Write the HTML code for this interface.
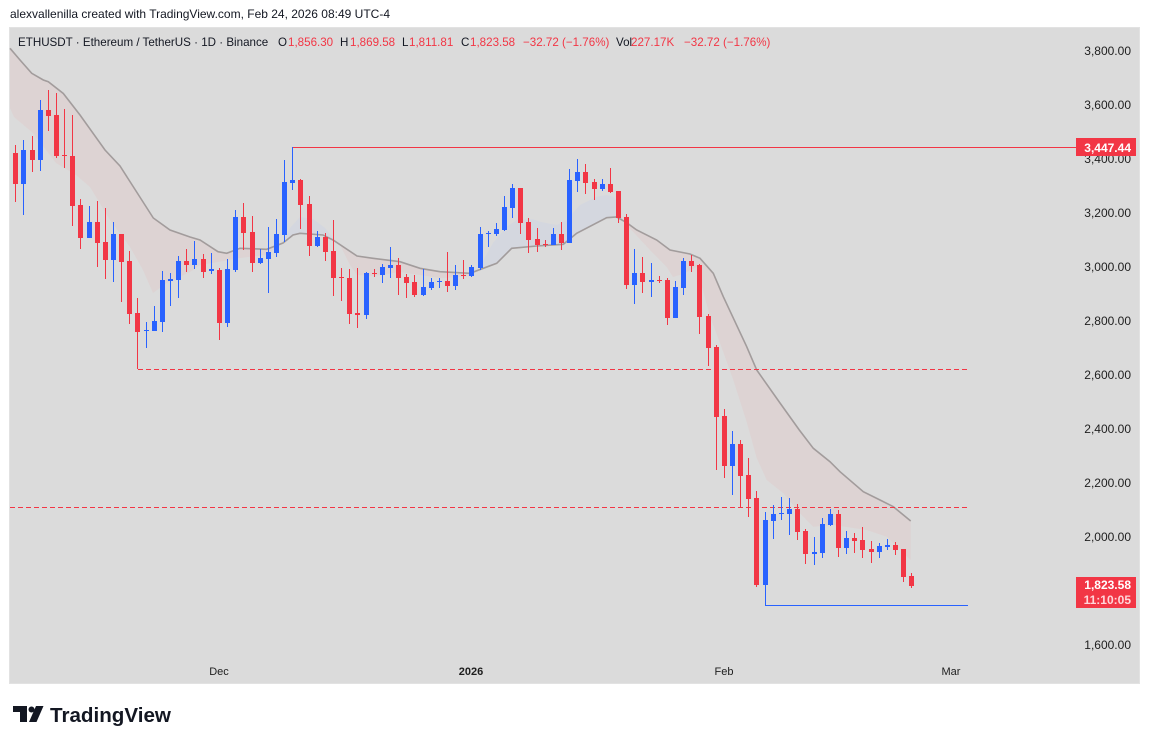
<!DOCTYPE html>
<html><head><meta charset="utf-8"><style>
html,body{margin:0;padding:0;background:#fff;}
body{width:1151px;height:745px;position:relative;overflow:hidden;font-family:"Liberation Sans",sans-serif;}
</style></head><body>
<svg width="1151" height="745" viewBox="0 0 1151 745" xmlns="http://www.w3.org/2000/svg" style="position:absolute;left:0;top:0">
<rect x="0" y="0" width="1151" height="745" fill="#ffffff"/>
<rect x="9" y="27" width="1131" height="657" fill="#dbdbdb"/>
<rect x="9.5" y="27.5" width="1130" height="656" fill="none" stroke="#e2e2e2" stroke-width="1"/>
<polygon fill="#ddd3d3" points="10,48.3 20,60 31.7,73.3 43.3,80 48.3,81.7 63.3,93.5 80,115 105,150 120,166 153.3,218 170,230 190,237 200,240 218,251.7 226.7,253.3 240,248.3 266.7,249.3 283,243 266,255 240,258 218,262 200,265 190,272 166.7,283 153,293 143,270 130,247 110,220 90,187 76,175 56,163 33,133 14,117 10,108"/>
<polygon fill="#d4d7df" points="283,243 293,235 300,233.3 323,235 333,240 340,245 333,238 325,228 313,219 300,217 290,228"/>
<polygon fill="#ddd3d3" points="340,245 357,256 373,258.3 400,261.7 420,268.3 440,271.7 470,273.3 478,270.5 470,276 460,277 440,278 420,275 400,272 373,276 357,275 350,265"/>
<polygon fill="#d4d7df" points="478,270.5 496.7,263.3 511.7,248.3 536.7,246 563.3,244.3 576.7,233.3 606.7,217.7 616.7,217 621.7,219 618.3,201.7 613.3,196.7 606.7,195 596.7,196.7 580,205 566.7,220 556.7,225 540,221.7 533,219.3 516.7,220 506.7,226.7 493,243 483.3,260"/>
<polygon fill="#ddd3d3" points="621.7,219 626.7,222.7 636.7,230 656.7,240 670,250 690,254 700,258.3 713.3,273.3 723.3,296.7 746.7,346.7 756.7,370 780,403 799.3,430 813.3,448.3 830,461.7 840,471.7 863.3,491.7 880,500 893.3,506.7 910.7,521 910.7,560 886.7,536.7 866.7,530 833.3,525 813.3,526.7 800,513.3 783.3,493.3 766.7,480 756.7,458 747,423 733.3,380 720,343 710,316.7 696.7,266.7 683,274 673,277 666.7,267 650,250 633.3,232 626,225"/>
<polyline fill="none" stroke="#a29c9c" stroke-width="1.6" points="10,48.3 20,60 31.7,73.3 43.3,80 48.3,81.7 63.3,93.5 80,115 105,150 120,166 153.3,218 170,230 190,237 200,240 218,251.7 226.7,253.3 240,248.3 266.7,249.3 283,243 293,235 300,233.3 323,235 333,240 357,256 373,258.3 400,261.7 420,268.3 440,271.7 470,273.3 496.7,263.3 511.7,248.3 536.7,246 563.3,244.3 576.7,233.3 606.7,217.7 616.7,217 626.7,222.7 636.7,230 656.7,240 670,250 690,254 700,258.3 713.3,273.3 723.3,296.7 746.7,346.7 756.7,370 780,403 799.3,430 813.3,448.3 830,461.7 840,471.7 863.3,491.7 880,500 893.3,506.7 910.7,521"/>
<rect x="292" y="147" width="784" height="1" fill="#F23645"/>
<line x1="138" y1="369.5" x2="970" y2="369.5" stroke="#F23645" stroke-width="1" stroke-dasharray="5,3"/>
<line x1="10" y1="507.5" x2="970" y2="507.5" stroke="#F23645" stroke-width="1" stroke-dasharray="5,3"/>
<rect x="765" y="605" width="203" height="1" fill="#2962FF"/>
<g fill="#F23645">
<rect x="15" y="145" width="1" height="57"/><rect x="13" y="153" width="5" height="31"/>
<rect x="32" y="136" width="1" height="36"/><rect x="30" y="150" width="5" height="10"/>
<rect x="48" y="90" width="1" height="41"/><rect x="46" y="110" width="5" height="6"/>
<rect x="56" y="93" width="1" height="65"/><rect x="54" y="115" width="5" height="41"/>
<rect x="64" y="109" width="1" height="59"/><rect x="62" y="155" width="5" height="1"/>
<rect x="72" y="115" width="1" height="111"/><rect x="70" y="156" width="5" height="50"/>
<rect x="80" y="199" width="1" height="50"/><rect x="78" y="205" width="5" height="33"/>
<rect x="97" y="201" width="1" height="66"/><rect x="95" y="222" width="5" height="21"/>
<rect x="105" y="208" width="1" height="71"/><rect x="103" y="242" width="5" height="18"/>
<rect x="121" y="234" width="1" height="68"/><rect x="119" y="234" width="5" height="28"/>
<rect x="129" y="251" width="1" height="73"/><rect x="127" y="261" width="5" height="53"/>
<rect x="137" y="298" width="1" height="71"/><rect x="135" y="313" width="5" height="19"/>
<rect x="186" y="249" width="1" height="23"/><rect x="184" y="261" width="5" height="4"/>
<rect x="203" y="254" width="1" height="24"/><rect x="201" y="259" width="5" height="13"/>
<rect x="219" y="268" width="1" height="72"/><rect x="217" y="270" width="5" height="53"/>
<rect x="243" y="203" width="1" height="47"/><rect x="241" y="217" width="5" height="16"/>
<rect x="252" y="216" width="1" height="56"/><rect x="250" y="232" width="5" height="31"/>
<rect x="300" y="179" width="1" height="50"/><rect x="298" y="180" width="5" height="25"/>
<rect x="309" y="196" width="1" height="60"/><rect x="307" y="204" width="5" height="42"/>
<rect x="325" y="233" width="1" height="28"/><rect x="323" y="237" width="5" height="15"/>
<rect x="333" y="220" width="1" height="76"/><rect x="331" y="251" width="5" height="27"/>
<rect x="341" y="268" width="1" height="33"/><rect x="339" y="277" width="5" height="1"/>
<rect x="349" y="269" width="1" height="55"/><rect x="347" y="278" width="5" height="36"/>
<rect x="357" y="268" width="1" height="60"/><rect x="355" y="313" width="5" height="2"/>
<rect x="374" y="269" width="1" height="8"/><rect x="372" y="273" width="5" height="1"/>
<rect x="398" y="258" width="1" height="37"/><rect x="396" y="265" width="5" height="13"/>
<rect x="406" y="274" width="1" height="24"/><rect x="404" y="277" width="5" height="6"/>
<rect x="414" y="275" width="1" height="22"/><rect x="412" y="282" width="5" height="13"/>
<rect x="447" y="252" width="1" height="40"/><rect x="445" y="281" width="5" height="5"/>
<rect x="463" y="260" width="1" height="19"/><rect x="461" y="275" width="5" height="1"/>
<rect x="520" y="188" width="1" height="46"/><rect x="518" y="188" width="5" height="35"/>
<rect x="528" y="218" width="1" height="35"/><rect x="526" y="222" width="5" height="18"/>
<rect x="537" y="228" width="1" height="24"/><rect x="535" y="239" width="5" height="6"/>
<rect x="545" y="240" width="1" height="7"/><rect x="543" y="244" width="5" height="1"/>
<rect x="561" y="222" width="1" height="28"/><rect x="559" y="234" width="5" height="9"/>
<rect x="585" y="164" width="1" height="30"/><rect x="583" y="172" width="5" height="11"/>
<rect x="594" y="179" width="1" height="21"/><rect x="592" y="182" width="5" height="7"/>
<rect x="610" y="168" width="1" height="25"/><rect x="608" y="184" width="5" height="8"/>
<rect x="618" y="191" width="1" height="32"/><rect x="616" y="191" width="5" height="27"/>
<rect x="626" y="214" width="1" height="75"/><rect x="624" y="217" width="5" height="68"/>
<rect x="642" y="257" width="1" height="36"/><rect x="640" y="273" width="5" height="9"/>
<rect x="659" y="276" width="1" height="7"/><rect x="657" y="280" width="5" height="1"/>
<rect x="667" y="278" width="1" height="47"/><rect x="665" y="280" width="5" height="38"/>
<rect x="691" y="255" width="1" height="17"/><rect x="689" y="261" width="5" height="5"/>
<rect x="699" y="264" width="1" height="70"/><rect x="697" y="265" width="5" height="52"/>
<rect x="708" y="314" width="1" height="52"/><rect x="706" y="316" width="5" height="32"/>
<rect x="716" y="345" width="1" height="125"/><rect x="714" y="347" width="5" height="70"/>
<rect x="724" y="409" width="1" height="69"/><rect x="722" y="416" width="5" height="50"/>
<rect x="740" y="440" width="1" height="68"/><rect x="738" y="444" width="5" height="32"/>
<rect x="748" y="458" width="1" height="59"/><rect x="746" y="475" width="5" height="24"/>
<rect x="756" y="491" width="1" height="96"/><rect x="754" y="498" width="5" height="87"/>
<rect x="797" y="504" width="1" height="36"/><rect x="795" y="509" width="5" height="23"/>
<rect x="805" y="529" width="1" height="35"/><rect x="803" y="531" width="5" height="23"/>
<rect x="838" y="510" width="1" height="47"/><rect x="836" y="514" width="5" height="34"/>
<rect x="854" y="533" width="1" height="20"/><rect x="852" y="538" width="5" height="3"/>
<rect x="862" y="527" width="1" height="31"/><rect x="860" y="540" width="5" height="10"/>
<rect x="871" y="541" width="1" height="22"/><rect x="869" y="549" width="5" height="3"/>
<rect x="895" y="542" width="1" height="13"/><rect x="893" y="545" width="5" height="5"/>
<rect x="903" y="549" width="1" height="33"/><rect x="901" y="549" width="5" height="28"/>
<rect x="911" y="573" width="1" height="15"/><rect x="909" y="576" width="5" height="10"/>
</g>
<g fill="#2962FF">
<rect x="23" y="140" width="1" height="75"/><rect x="21" y="150" width="5" height="34"/>
<rect x="40" y="100" width="1" height="71"/><rect x="38" y="110" width="5" height="50"/>
<rect x="89" y="206" width="1" height="32"/><rect x="87" y="222" width="5" height="16"/>
<rect x="113" y="222" width="1" height="60"/><rect x="111" y="234" width="5" height="26"/>
<rect x="146" y="322" width="1" height="26"/><rect x="144" y="330" width="5" height="1"/>
<rect x="154" y="306" width="1" height="25"/><rect x="152" y="321" width="5" height="10"/>
<rect x="162" y="271" width="1" height="61"/><rect x="160" y="280" width="5" height="42"/>
<rect x="170" y="273" width="1" height="33"/><rect x="168" y="279" width="5" height="2"/>
<rect x="178" y="256" width="1" height="42"/><rect x="176" y="261" width="5" height="19"/>
<rect x="194" y="241" width="1" height="28"/><rect x="192" y="259" width="5" height="6"/>
<rect x="211" y="253" width="1" height="21"/><rect x="209" y="269" width="5" height="2"/>
<rect x="227" y="259" width="1" height="68"/><rect x="225" y="269" width="5" height="54"/>
<rect x="235" y="210" width="1" height="62"/><rect x="233" y="217" width="5" height="53"/>
<rect x="260" y="249" width="1" height="15"/><rect x="258" y="258" width="5" height="5"/>
<rect x="268" y="227" width="1" height="66"/><rect x="266" y="252" width="5" height="7"/>
<rect x="276" y="219" width="1" height="38"/><rect x="274" y="234" width="5" height="19"/>
<rect x="284" y="160" width="1" height="82"/><rect x="282" y="182" width="5" height="53"/>
<rect x="292" y="147" width="1" height="43"/><rect x="290" y="180" width="5" height="3"/>
<rect x="317" y="231" width="1" height="16"/><rect x="315" y="237" width="5" height="9"/>
<rect x="366" y="272" width="1" height="47"/><rect x="364" y="273" width="5" height="42"/>
<rect x="382" y="264" width="1" height="19"/><rect x="380" y="267" width="5" height="8"/>
<rect x="390" y="247" width="1" height="31"/><rect x="388" y="265" width="5" height="3"/>
<rect x="423" y="269" width="1" height="27"/><rect x="421" y="287" width="5" height="8"/>
<rect x="431" y="278" width="1" height="12"/><rect x="429" y="282" width="5" height="6"/>
<rect x="439" y="278" width="1" height="10"/><rect x="437" y="281" width="5" height="1"/>
<rect x="455" y="265" width="1" height="25"/><rect x="453" y="275" width="5" height="11"/>
<rect x="471" y="265" width="1" height="12"/><rect x="469" y="267" width="5" height="9"/>
<rect x="480" y="227" width="1" height="43"/><rect x="478" y="234" width="5" height="34"/>
<rect x="488" y="231" width="1" height="16"/><rect x="486" y="233" width="5" height="1"/>
<rect x="496" y="223" width="1" height="13"/><rect x="494" y="229" width="5" height="5"/>
<rect x="504" y="196" width="1" height="35"/><rect x="502" y="207" width="5" height="23"/>
<rect x="512" y="184" width="1" height="34"/><rect x="510" y="188" width="5" height="20"/>
<rect x="553" y="228" width="1" height="17"/><rect x="551" y="234" width="5" height="11"/>
<rect x="569" y="169" width="1" height="74"/><rect x="567" y="180" width="5" height="63"/>
<rect x="577" y="159" width="1" height="33"/><rect x="575" y="172" width="5" height="9"/>
<rect x="602" y="179" width="1" height="12"/><rect x="600" y="184" width="5" height="5"/>
<rect x="634" y="249" width="1" height="55"/><rect x="632" y="273" width="5" height="12"/>
<rect x="651" y="263" width="1" height="34"/><rect x="649" y="280" width="5" height="2"/>
<rect x="675" y="281" width="1" height="37"/><rect x="673" y="287" width="5" height="31"/>
<rect x="683" y="258" width="1" height="37"/><rect x="681" y="261" width="5" height="27"/>
<rect x="732" y="431" width="1" height="64"/><rect x="730" y="444" width="5" height="22"/>
<rect x="765" y="512" width="1" height="94"/><rect x="763" y="520" width="5" height="65"/>
<rect x="773" y="505" width="1" height="34"/><rect x="771" y="514" width="5" height="7"/>
<rect x="781" y="497" width="1" height="23"/><rect x="779" y="513" width="5" height="1"/>
<rect x="789" y="498" width="1" height="37"/><rect x="787" y="509" width="5" height="5"/>
<rect x="814" y="537" width="1" height="28"/><rect x="812" y="552" width="5" height="2"/>
<rect x="822" y="518" width="1" height="40"/><rect x="820" y="524" width="5" height="29"/>
<rect x="830" y="509" width="1" height="17"/><rect x="828" y="514" width="5" height="11"/>
<rect x="846" y="531" width="1" height="23"/><rect x="844" y="538" width="5" height="10"/>
<rect x="879" y="543" width="1" height="15"/><rect x="877" y="546" width="5" height="6"/>
<rect x="887" y="539" width="1" height="11"/><rect x="885" y="545" width="5" height="2"/>
</g>
<g font-family="Liberation Sans, sans-serif" font-size="12" fill="#1e1e1e" text-anchor="end">
<text x="1131" y="55">3,800.00</text>
<text x="1131" y="109">3,600.00</text>
<text x="1131" y="163">3,400.00</text>
<text x="1131" y="217">3,200.00</text>
<text x="1131" y="271">3,000.00</text>
<text x="1131" y="325">2,800.00</text>
<text x="1131" y="379">2,600.00</text>
<text x="1131" y="433">2,400.00</text>
<text x="1131" y="487">2,200.00</text>
<text x="1131" y="541">2,000.00</text>
<text x="1131" y="649">1,600.00</text>
</g>
<rect x="1076" y="138" width="60" height="18" fill="#F23645"/>
<text x="1131" y="152" font-family="Liberation Sans, sans-serif" font-size="12" font-weight="bold" fill="#ffffff" text-anchor="end">3,447.44</text>
<rect x="1076" y="577" width="60" height="31" fill="#F23645"/>
<text x="1131" y="589" font-family="Liberation Sans, sans-serif" font-size="12" font-weight="bold" fill="#ffffff" text-anchor="end">1,823.58</text>
<text x="1131" y="604" font-family="Liberation Sans, sans-serif" font-size="12" font-weight="bold" fill="#ffd6da" text-anchor="end">11:10:05</text>
<g font-family="Liberation Sans, sans-serif" font-size="11" fill="#1e1e1e" text-anchor="middle">
<text x="219" y="675">Dec</text>
<text x="471" y="675" font-weight="bold">2026</text>
<text x="724" y="675">Feb</text>
<text x="951" y="675">Mar</text>
</g>
<text x="10" y="18" font-family="Liberation Sans, sans-serif" font-size="12" fill="#131722">alexvallenilla created with TradingView.com, Feb 24, 2026 08:49 UTC-4</text>
<g font-family="Liberation Sans, sans-serif" font-size="11.6" fill="#131722">
<text x="18" y="46">ETHUSDT · Ethereum / TetherUS · 1D · Binance</text>
<text x="278" y="46">O</text><text x="288" y="46" fill="#F23645">1,856.30</text>
<text x="340" y="46">H</text><text x="350" y="46" fill="#F23645">1,869.58</text>
<text x="402" y="46">L</text><text x="409" y="46" fill="#F23645">1,811.81</text>
<text x="461" y="46">C</text><text x="470" y="46" fill="#F23645">1,823.58</text>
<text x="523" y="46" fill="#F23645">−32.72 (−1.76%)</text>
<text x="616" y="46">Vol</text><text x="631" y="46" fill="#F23645">227.17K</text>
<text x="684" y="46" fill="#F23645">−32.72 (−1.76%)</text>
</g>
<g fill="#131722">
<rect x="13" y="706" width="14" height="6"/>
<rect x="20" y="706" width="7" height="16"/>
<circle cx="31.5" cy="709.5" r="3"/>
<polygon points="36,706 43.5,706 36.5,722 29,722"/>
</g>
<text x="50" y="722" font-family="Liberation Sans, sans-serif" font-size="20.6" font-weight="bold" fill="#131722">TradingView</text>
</svg>
</body></html>
